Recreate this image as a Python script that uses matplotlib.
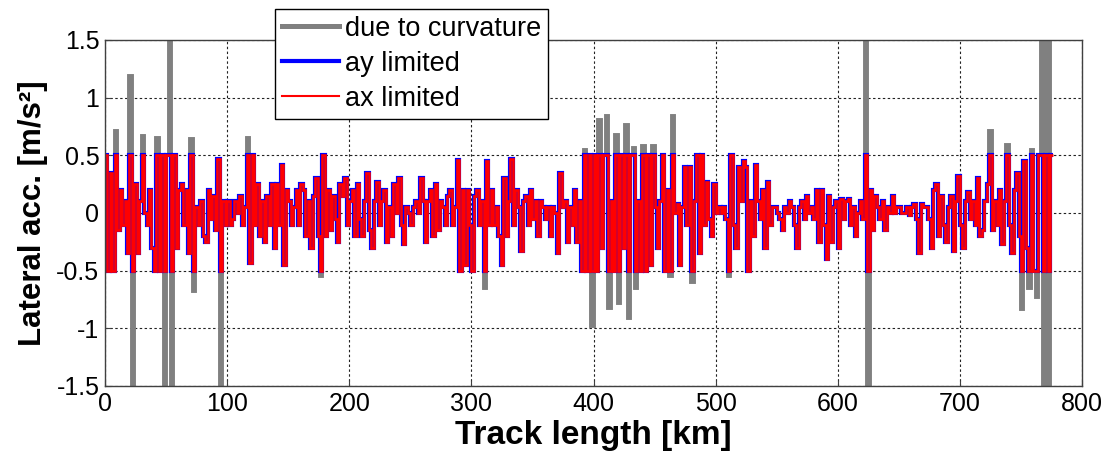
import numpy as np
import matplotlib.pyplot as plt
from matplotlib.lines import Line2D

# ---- data, 2 km segments from 0 to 776 km ----
seg_step_km = 2
acc_curvature = [
    0.5, -0.5, 0.35, -0.5, 0.71, -0.15, 0.2, -0.1, 0.1, -0.35,       # 0-18 km
    1.19, -1.6, 0.25, -0.35, 0.1, 0.67, 0.0, -0.1, 0.2, -0.3,        # 20-38
    -0.5, 0.65, -0.5, 0.5, -1.6, 0.5, 1.6, -1.6, 0.5, -0.3,          # 40-58
    0.2, 0.25, -0.1, 0.2, -0.35, 0.64, -0.68, 0.05, -0.1, 0.1,       # 60-78
    -0.2, -0.25, 0.2, -0.05, 0.15, -0.15, 0.47, -1.6, 0.1, -0.1,     # 80-98
    0.1, -0.1, -0.05, 0.1, 0.0, 0.15, -0.1, 0.05, 0.65, -0.43,       # 100-118
    0.5, -0.1, 0.25, -0.2, 0.1, -0.25, 0.15, -0.1, 0.25, -0.3,       # 120-138
    0.25, -0.1, 0.42, -0.45, 0.2, 0.1, -0.1, 0.05, 0.2, -0.1,        # 140-158
    0.25, 0.2, -0.2, 0.1, -0.3, 0.15, 0.3, -0.2, -0.55, 0.5,         # 160-178
    -0.2, 0.2, -0.15, 0.15, -0.05, -0.25, 0.25, 0.15, 0.3, -0.1,     # 180-198
    0.1, 0.2, -0.2, 0.25, -0.05, -0.2, 0.1, 0.35, -0.15, -0.3,       # 200-218
    0.1, 0.27, -0.1, 0.1, 0.2, -0.25, 0.05, -0.2, 0.25, 0.0,         # 220-238
    0.3, -0.1, -0.27, 0.05, 0.0, -0.1, 0.05, 0.1, 0.0, 0.3,          # 240-258
    0.1, -0.25, 0.1, 0.2, -0.2, 0.25, -0.15, 0.1, 0.05, -0.1,        # 260-278
    0.15, 0.2, -0.1, 0.05, 0.46, -0.5, 0.2, -0.45, 0.2, -0.1,        # 280-298
    -0.5, 0.15, 0.2, -0.1, 0.1, -0.65, 0.45, -0.1, 0.2, -0.1,        # 300-318
    0.05, -0.2, -0.45, 0.3, -0.2, 0.1, 0.47, -0.1, 0.2, 0.05,        # 320-338
    -0.33, 0.1, 0.15, -0.1, 0.2, -0.05, 0.1, -0.2, 0.1, 0.05,        # 340-358
    -0.05, 0.05, -0.2, 0.05, 0.0, -0.35, 0.35, 0.05, 0.1, -0.25,     # 360-378
    0.05, -0.1, 0.2, -0.25, 0.1, -0.5, 0.55, -0.5, 0.5, -0.98,       # 380-398
    0.5, -0.5, 0.81, -0.3, 0.5, 0.84, -0.82, 0.1, -0.5, 0.68,        # 400-418
    -0.78, 0.5, -0.3, 0.76, -0.91, 0.5, 0.56, -0.65, 0.1, -0.5,      # 420-438
    0.58, -0.5, 0.5, -0.45, 0.58, 0.05, -0.3, 0.1, 0.5, -0.5,        # 440-458
    0.2, -0.55, 0.84, 0.0, 0.08, -0.45, 0.05, 0.4, -0.1, 0.4,        # 460-478
    -0.6, 0.1, 0.5, -0.35, 0.5, -0.1, 0.27, -0.05, -0.2, 0.25,       # 480-498
    0.0, 0.05, 0.0, 0.05, -0.05, -0.55, 0.5, -0.1, -0.3, 0.4,        # 500-518
    0.1, 0.45, 0.4, -0.5, 0.1, -0.2, 0.42, 0.1, -0.05, 0.2,          # 520-538
    -0.3, 0.27, -0.1, 0.05, 0.05, 0.0, -0.05, -0.15, 0.05, 0.0,      # 540-558
    0.1, 0.05, -0.1, -0.3, 0.05, 0.1, -0.05, 0.15, 0.0, 0.05,        # 560-578
    -0.05, 0.2, -0.25, 0.2, -0.1, -0.4, 0.15, -0.25, 0.05, 0.1,      # 580-598
    -0.3, 0.12, -0.05, 0.1, 0.12, -0.1, 0.05, -0.2, 0.0, 0.1,        # 600-618
    -0.05, 1.6, -1.6, 0.2, -0.15, 0.15, 0.05, -0.05, 0.1, -0.15,     # 620-638
    0.05, 0.0, 0.15, 0.0, 0.05, 0.05, 0.0, 0.0, 0.05, -0.02,         # 640-658
    0.05, 0.08, -0.05, -0.35, 0.08, 0.05, 0.05, -0.05, -0.3, 0.2,    # 660-678
    0.25, -0.2, 0.15, -0.1, -0.25, 0.05, 0.15, -0.33, 0.1, 0.32,     # 680-698
    -0.1, -0.3, 0.1, 0.18, -0.05, 0.1, -0.1, 0.3, -0.2, -0.15,       # 700-718
    0.1, 0.25, 0.71, -0.15, 0.1, -0.1, 0.2, -0.27, 0.1, 0.59,        # 720-738
    -0.1, -0.35, 0.2, 0.35, -0.2, -0.83, 0.45, -0.3, -0.65, 0.55,    # 740-758
    -0.5, -0.73, 0.5, 1.6, -1.6, 1.6, -1.6, 1.6,                     # 760-774
]
ay_max = 0.5  # lateral acceleration limit [m/s^2]

xticks = [0, 100, 200, 300, 400, 500, 600, 700, 800]
yticks = [-1.5, -1, -0.5, 0, 0.5, 1, 1.5]
ytick_labels = ['-1.5', '-1', '-0.5', '0', '0.5', '1', '1.5']
series_labels = ['due to curvature', 'ay limited', 'ax limited']

acc_curvature = np.array(acc_curvature)
edges = np.arange(0, seg_step_km * (len(acc_curvature) + 1), seg_step_km)
ay_limited = np.clip(acc_curvature, -ay_max, ay_max)
ax_limited = ay_limited.copy()

plt.rcParams['font.family'] = ['Liberation Sans', 'DejaVu Sans']

fig = plt.figure(figsize=(11.1, 4.57), dpi=100)
ax = fig.add_axes([0.0946, 0.1554, 0.8802, 0.7571])

ax.stairs(acc_curvature, edges, baseline=None, color='#808080', lw=2.8)
ax.stairs(ay_limited, edges, baseline=None, color='#0000ff', lw=3.0)
ax.stairs(ax_limited, edges, baseline=None, color='#ff0000', lw=1.9)

ax.set_xlim(0, 800)
ax.set_ylim(-1.5, 1.5)
ax.set_xticks(xticks)
ax.set_yticks(yticks)
ax.set_yticklabels(ytick_labels)
ax.set_axisbelow(True)
ax.grid(True, color='#222222', linestyle=(0, (2.2, 2.2)), lw=0.8)
ax.tick_params(direction='in', length=4, labelsize=18, color='#404040', pad=4)
for s in ax.spines.values():
    s.set_color('#404040')
    s.set_linewidth(1.0)

ax.set_xlabel('Track length [km]', fontsize=24, fontweight='bold', labelpad=3)
ax.set_ylabel('Lateral acc. [m/s²]', fontsize=22.5, fontweight='bold', labelpad=6)

handles = [Line2D([], [], color='#808080', lw=3.6),
           Line2D([], [], color='#0000ff', lw=3.0),
           Line2D([], [], color='#ff0000', lw=1.5)]
fig.legend(handles, series_labels, loc='upper left', bbox_to_anchor=(0.2477, 0.98),
           fontsize=19.5, frameon=True, fancybox=False, edgecolor='black', framealpha=1,
           borderaxespad=0, handlelength=2.1, handletextpad=0.25, labelspacing=0.33,
           borderpad=0.25)

fig.savefig('out.png', dpi=100)
